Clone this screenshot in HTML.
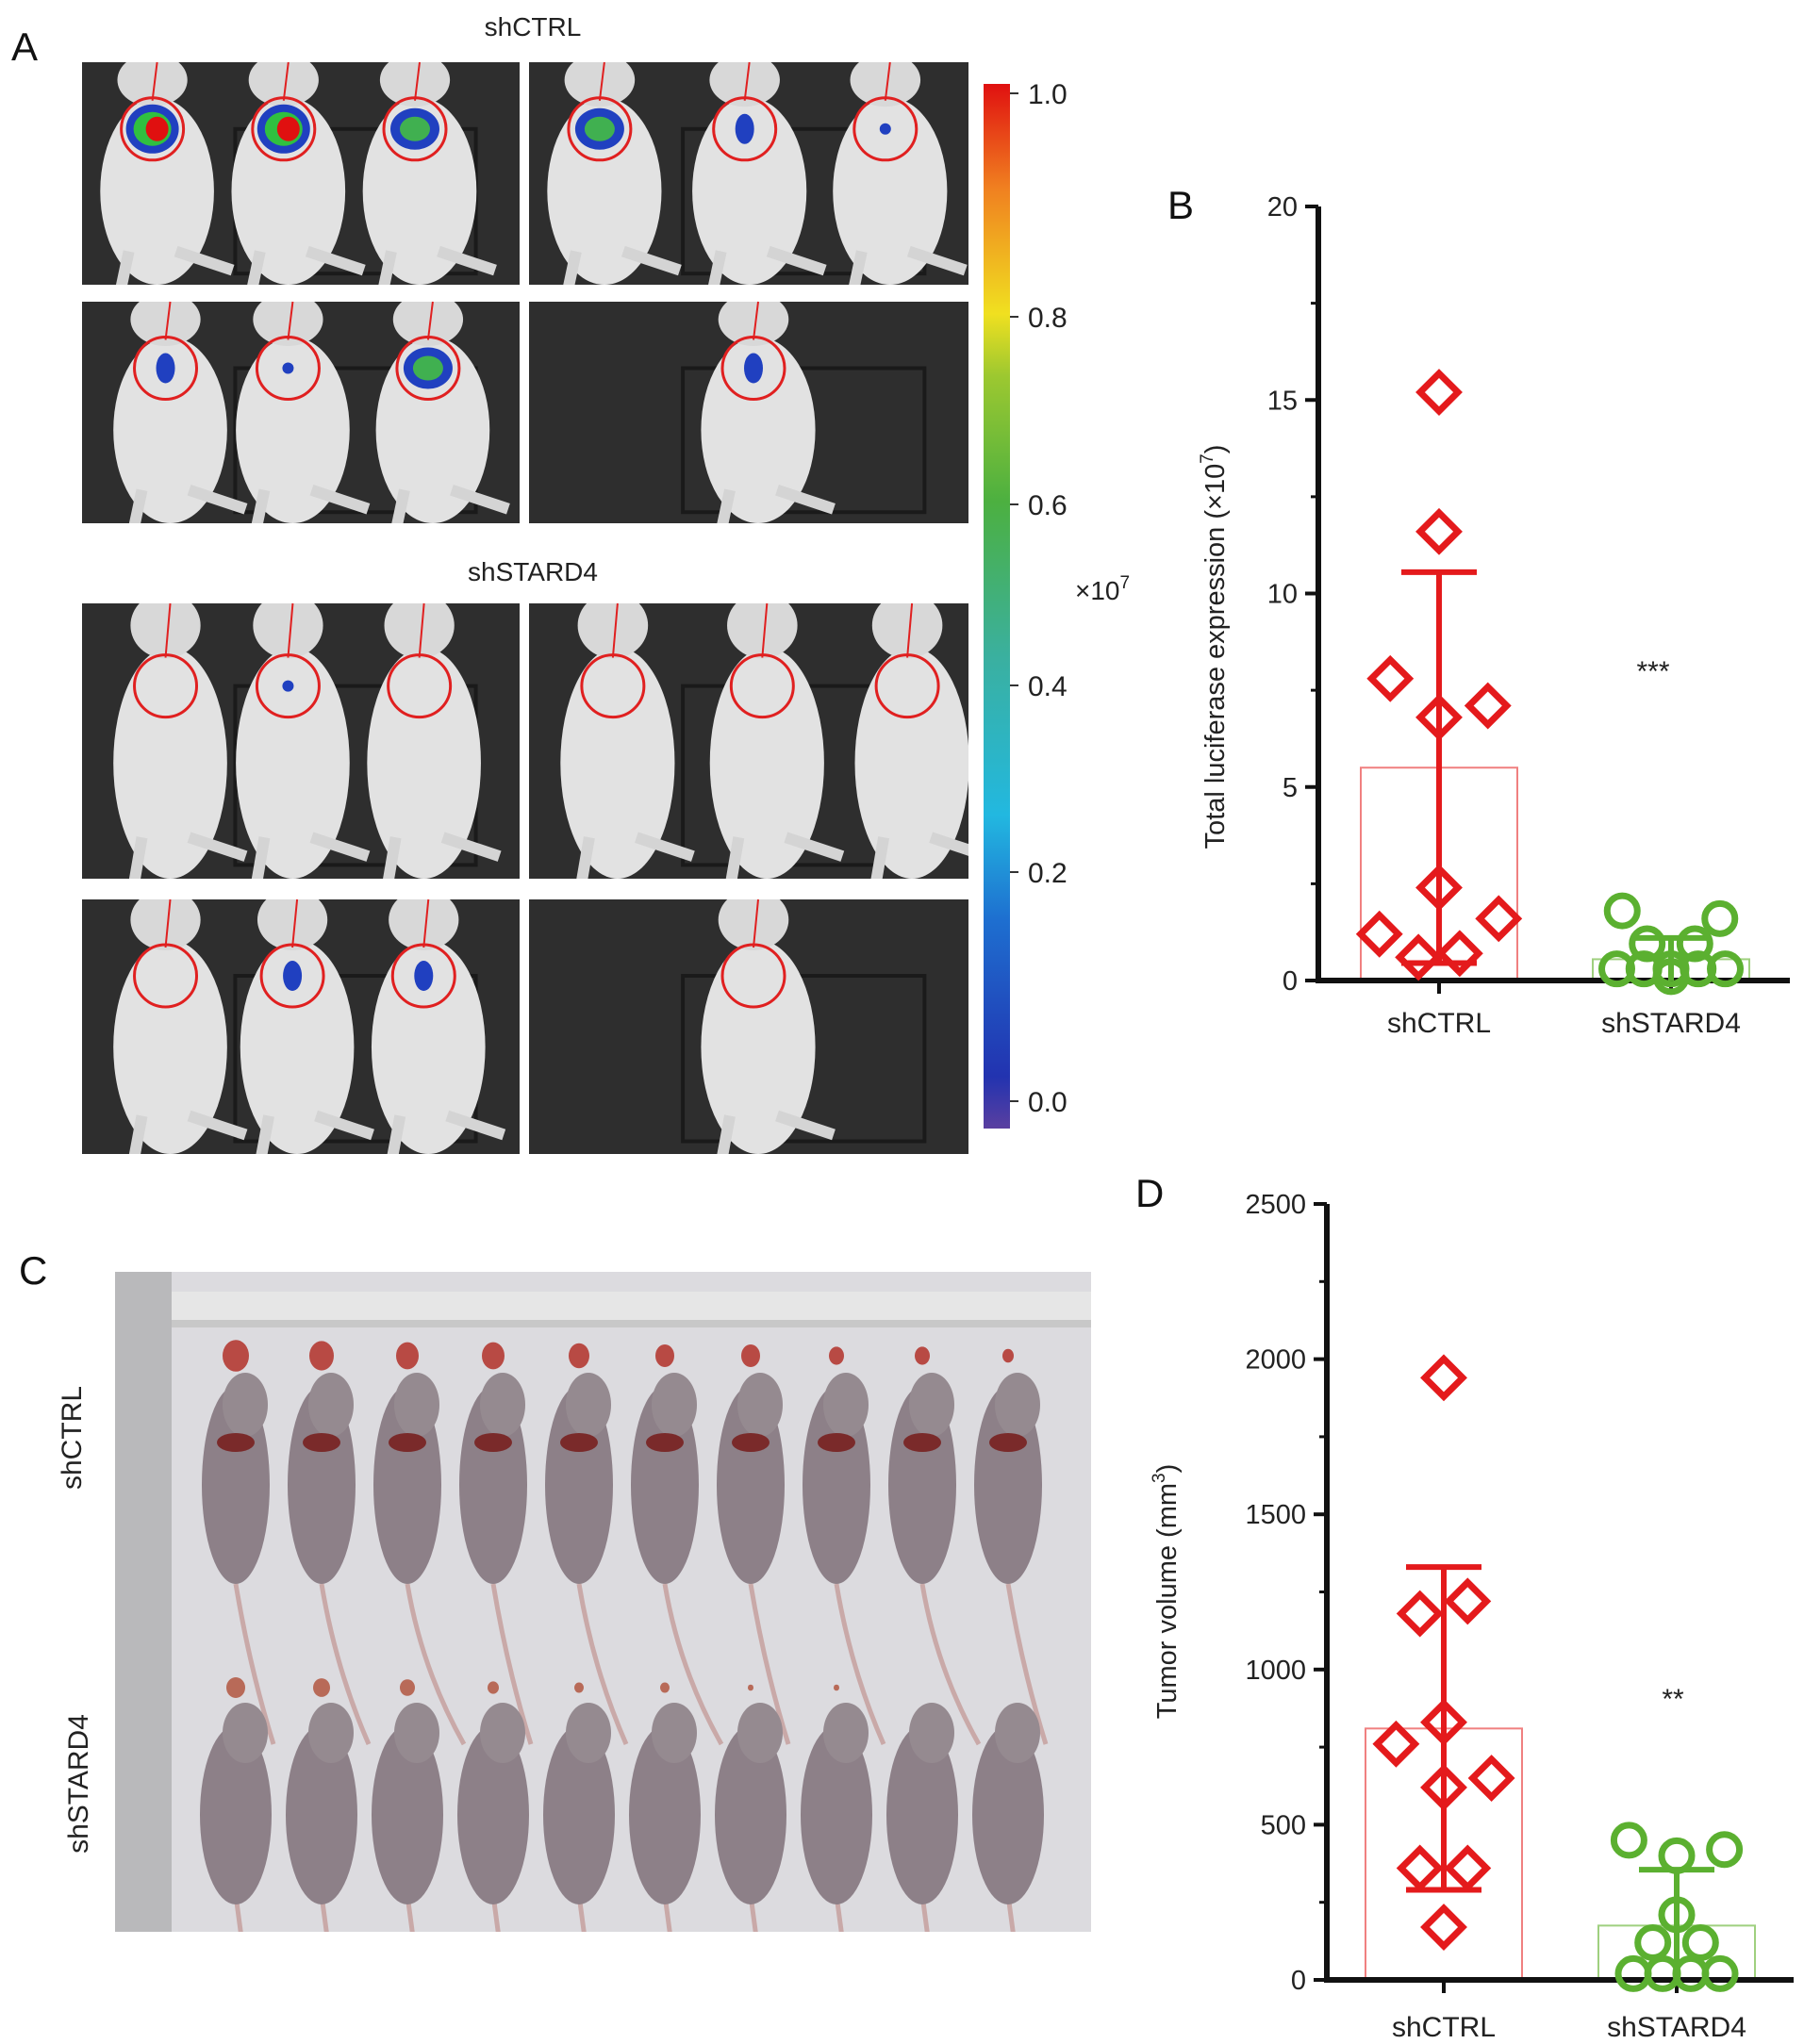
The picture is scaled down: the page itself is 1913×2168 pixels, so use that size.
<!DOCTYPE html>
<html><head><meta charset="utf-8">
<style>
body{margin:0;background:#fff;}
svg{display:block;font-family:"Liberation Sans",Arial,sans-serif;}
</style></head>
<body>
<svg id="fig" width="1913" height="2168" viewBox="0 0 1913 2168" xmlns="http://www.w3.org/2000/svg">
<defs>
<linearGradient id="cbar" x1="0" y1="1" x2="0" y2="0">
<stop offset="0" stop-color="#5a3fa0"/><stop offset="0.05" stop-color="#2233b0"/>
<stop offset="0.2" stop-color="#1e6fd0"/><stop offset="0.3" stop-color="#22b8e0"/>
<stop offset="0.45" stop-color="#3ab0a0"/><stop offset="0.6" stop-color="#4cb040"/>
<stop offset="0.72" stop-color="#9cc830"/><stop offset="0.78" stop-color="#f0e020"/>
<stop offset="0.9" stop-color="#f08020"/><stop offset="1" stop-color="#e01010"/>
</linearGradient>
<clipPath id="clipC"><rect x="122" y="1349" width="1035" height="700"/></clipPath>
</defs>
<g id="panelA"></g>
<g id="panelC"></g>
<g id="chartB"></g>
<g id="chartD"></g>
</svg>
<script>
// ---- Chart B data ----
const catsB = ["shCTRL", "shSTARD4"];
const ticksB = [0, 5, 10, 15, 20];
const ctrlB = [15.2, 11.6, 7.8, 6.8, 7.1, 2.4, 1.2, 1.6, 0.6, 0.7];
const ctrlBoff = [0, 0, -0.45, 0, 0.45, 0, -0.55, 0.55, -0.19, 0.19];
const stardB = [1.8, 1.6, 0.95, 0.95, 0.3, 0.3, 0.3, 0.3, 0.3, 0.1];
const stardBoff = [-0.45, 0.45, -0.22, 0.22, -0.5, -0.25, 0, 0.25, 0.5, 0];
const meanB = [5.5, 0.55];
const errTopB = [10.55, 1.1];
const errBotB = [0.45, 0.0];
// ---- Chart D data ----
const catsD = ["shCTRL", "shSTARD4"];
const ticksD = [0, 500, 1000, 1500, 2000, 2500];
const ctrlD = [1940, 1220, 1180, 830, 760, 650, 620, 360, 360, 170];
const ctrlDoff = [0, 0.22, -0.22, 0, -0.44, 0.44, 0, -0.22, 0.22, 0];
const stardD = [450, 420, 400, 210, 120, 120, 20, 20, 20, 20];
const stardDoff = [-0.44, 0.44, 0, 0, -0.22, 0.22, -0.4, -0.13, 0.13, 0.4];
const meanD = [810, 175];
const errTopD = [1330, 355];
const errBotD = [290, 0];

const NS = "http://www.w3.org/2000/svg";
function mk(parent, tag, attrs, text){
  const e = document.createElementNS(NS, tag);
  for (const k in attrs) e.setAttribute(k, attrs[k]);
  if (text !== undefined) e.textContent = text;
  parent.appendChild(e); return e;
}

function drawChart(g, cfg){
  const y = v => cfg.y0 - (v - 0) / cfg.max * (cfg.y0 - cfg.yTop);
  const x = (i, off) => cfg.cx[i] + (off || 0) * cfg.spread;
  const RED = "#e41a1c", GREEN = "#5bb030";
  [cfg.mean[0], cfg.mean[1]].forEach((m, i) => {
    const b = mk(g, "rect", {x: x(i) - cfg.bw/2, y: y(m), width: cfg.bw, height: y(0) - y(m), fill: "none", stroke: i ? "#9fd07f" : "#f08080", "stroke-width": 2});
    
    
  });
  const ya = mk(g, "line", {x1: cfg.ax, y1: cfg.yTop, x2: cfg.ax, y2: y(0), stroke: "#111", "stroke-width": 6});
  
  
  const xa = mk(g, "line", {x1: cfg.ax - 3, y1: y(0), x2: cfg.xEnd, y2: y(0), stroke: "#111", "stroke-width": 6});
  
  
  cfg.ticks.forEach((t, k) => {
    mk(g, "line", {x1: cfg.ax - 14, y1: y(t), x2: cfg.ax, y2: y(t), stroke: "#111", "stroke-width": 4});
    if (k < cfg.ticks.length - 1) {
      const mid = (t + cfg.ticks[k+1]) / 2;
      mk(g, "line", {x1: cfg.ax - 8, y1: y(mid), x2: cfg.ax, y2: y(mid), stroke: "#111", "stroke-width": 3});
    }
    const tl = mk(g, "text", {x: cfg.ax - 22, y: y(t) + 10, "text-anchor": "end", "font-size": 29, fill: "#222"}, String(t));
    
    
  });
  cfg.cats.forEach((c, i) => {
    mk(g, "line", {x1: x(i), y1: y(0), x2: x(i), y2: y(0) + 14, stroke: "#111", "stroke-width": 4});
    const cl = mk(g, "text", {x: x(i), y: cfg.catY, "text-anchor": "middle", "font-size": 30, fill: "#222"}, c);
    
    
  });
  [0, 1].forEach(i => {
    const col = i ? GREEN : RED;
    mk(g, "line", {x1: x(i), y1: y(cfg.errTop[i]), x2: x(i), y2: y(cfg.errBot[i]), stroke: col, "stroke-width": 6});
    mk(g, "line", {x1: x(i) - cfg.cap, y1: y(cfg.errTop[i]), x2: x(i) + cfg.cap, y2: y(cfg.errTop[i]), stroke: col, "stroke-width": 6});
    if (cfg.errBot[i] > 0) mk(g, "line", {x1: x(i) - cfg.cap, y1: y(cfg.errBot[i]), x2: x(i) + cfg.cap, y2: y(cfg.errBot[i]), stroke: col, "stroke-width": 6});
  });
  cfg.ctrl.forEach((v, k) => {
    const px = x(0, cfg.ctrlOff[k]), py = y(v), h = 20;
    const p = mk(g, "polygon", {points: `${px},${py-h} ${px+h},${py} ${px},${py+h} ${px-h},${py}`, fill: "none", stroke: RED, "stroke-width": 7});
    
    
  });
  cfg.stard.forEach((v, k) => {
    const c = mk(g, "circle", {cx: x(1, cfg.stardOff[k]), cy: Math.min(y(v), y(0) - 2), r: 16, fill: "none", stroke: GREEN, "stroke-width": 7});
    
    
  });
  const st = mk(g, "text", {x: cfg.star[0], y: cfg.star[1], "text-anchor": "middle", "font-size": 30, fill: "#222"}, cfg.starText);
  
  
  const yt = mk(g, "text", {x: 0, y: 0, transform: `translate(${cfg.title[0]},${cfg.title[1]}) rotate(-90)`, "text-anchor": "middle", "font-size": 29, fill: "#222"});
  yt.innerHTML = cfg.titleHTML;
  
  
  const pl = mk(g, "text", {x: cfg.letter[0], y: cfg.letter[1], "font-size": 42, fill: "#111"}, cfg.letterText);
  
  
}

drawChart(document.getElementById("chartB"), {
  cats: catsB, ticks: ticksB, ctrl: ctrlB, ctrlOff: ctrlBoff, stard: stardB, stardOff: stardBoff,
  mean: meanB, errTop: errTopB, errBot: errBotB, max: 20, y0: 1040, yTop: 219, ax: 1398, xEnd: 1898,
  cx: [1526, 1772], spread: 115, bw: 166, cap: 40, catY: 1095, star: [1753, 722], starText: "***",
  title: [1298, 686], titleHTML: 'Total luciferase expression (×10<tspan dy="-12" font-size="19">7</tspan><tspan dy="12">)</tspan>',
  letter: [1238, 232], letterText: "B"
});
drawChart(document.getElementById("chartD"), {
  cats: catsD, ticks: ticksD, ctrl: ctrlD, ctrlOff: ctrlDoff, stard: stardD, stardOff: stardDoff,
  mean: meanD, errTop: errTopD, errBot: errBotD, max: 2500, y0: 2100, yTop: 1277, ax: 1407, xEnd: 1902,
  cx: [1531, 1778], spread: 115, bw: 166, cap: 40, catY: 2160, star: [1774, 1812], starText: "**",
  title: [1247, 1688], titleHTML: 'Tumor volume (mm<tspan dy="-12" font-size="19">3</tspan><tspan dy="12">)</tspan>',
  letter: [1204, 1280], letterText: "D"
});

// ---- Panel A (imaging photo approximation) ----
(function(){
  const g = document.getElementById("panelA");
  const panels = [
    [87,66,464,236,[0.15,0.45,0.75],[[0.15,"hot"],[0.45,"hot"],[0.75,"mid"]]],
    [561,66,466,236,[0.15,0.48,0.8],[[0.15,"mid"],[0.48,"low"],[0.8,"tiny"]]],
    [87,320,464,235,[0.18,0.46,0.78],[[0.18,"low"],[0.46,"tiny"],[0.78,"mid"]]],
    [561,320,466,235,[0.5],[[0.5,"low"]]],
    [87,640,464,292,[0.18,0.46,0.76],[[0.18,""],[0.46,"tiny"],[0.76,""]]],
    [561,640,466,292,[0.18,0.52,0.85],[[0.18,""],[0.52,""],[0.85,""]]],
    [87,954,464,270,[0.18,0.47,0.77],[[0.18,""],[0.47,"low"],[0.77,"low"]]],
    [561,954,466,270,[0.5],[[0.5,""]]]
  ];
  panels.forEach(([x,y,w,h,mice,sig]) => {
    const r = mk(g,"rect",{x,y,width:w,height:h,fill:"#2e2e2e"});
    
    
    mk(g,"rect",{x:x+w*0.35,y:y+h*0.3,width:w*0.55,height:h*0.65,fill:"none",stroke:"#1a1a1a","stroke-width":4});
    const cp = "cA" + x + "_" + y;
    const clip = mk(g,"clipPath",{id:cp});
    mk(clip,"rect",{x,y,width:w,height:h});
    const mg = mk(g,"g",{"clip-path":`url(#${cp})`});
    mice.forEach(f => {
      const cx = x + w*f + 10;
      mk(mg,"ellipse",{cx:cx, cy:y+h*0.58, rx:w*0.13, ry:h*0.42, fill:"#e2e2e2"});
      mk(mg,"ellipse",{cx:cx-5, cy:y+h*0.08, rx:w*0.08, ry:h*0.12, fill:"#d8d8d8"});
      mk(mg,"path",{d:`M${cx+20} ${y+h*0.85} l60 20 M${cx-30} ${y+h*0.85} l-10 ${h*0.2}`,stroke:"#d4d4d4","stroke-width":12,fill:"none"});
    });
    sig.forEach(([f,t]) => {
      const cx = x + w*f + 5, cy = y + h*0.3;
      mk(g,"line",{x1:cx+5,y1:y,x2:cx,y2:cy-30,stroke:"#e02020","stroke-width":2});
      if (t==="hot"){ mk(g,"ellipse",{cx,cy,rx:28,ry:26,fill:"#2040c0"}); mk(g,"ellipse",{cx,cy,rx:20,ry:18,fill:"#30c040"}); mk(g,"ellipse",{cx:cx+5,cy,rx:12,ry:13,fill:"#e01010"}); }
      else if (t==="mid"){ mk(g,"ellipse",{cx,cy,rx:26,ry:22,fill:"#2040c0"}); mk(g,"ellipse",{cx,cy,rx:16,ry:13,fill:"#40b050"}); }
      else if (t==="low"){ mk(g,"ellipse",{cx,cy,rx:10,ry:16,fill:"#2040c0"}); }
      else if (t==="tiny"){ mk(g,"circle",{cx,cy,r:6,fill:"#2040c0"}); }
      mk(g,"circle",{cx,cy,r:33,fill:"none",stroke:"#e02020","stroke-width":3});
    });
  });
  const cb = mk(g,"rect",{x:1043,y:89,width:28,height:1108,fill:"url(#cbar)"});
  
  
  const cbv = ["1.0","0.8","0.6","0.4","0.2","0.0"];
  const cby = [99, 336, 535, 727, 925, 1168];
  cbv.forEach((v,i) => {
    const yy = cby[i];
    mk(g,"line",{x1:1071,y1:yy,x2:1080,y2:yy,stroke:"#333","stroke-width":2});
    const t = mk(g,"text",{x:1090,y:yy+11,"font-size":30,fill:"#222"},v);
    
    
  });
  const ex = mk(g,"text",{x:1140,y:636,"font-size":28,fill:"#222"});
  ex.innerHTML = '×10<tspan dy="-12" font-size="19">7</tspan>';
  
  
  [["shCTRL",28],["shSTARD4",606]].forEach(([s,yy]) => {
    const t = mk(g,"text",{x:565,y:yy+10,"text-anchor":"middle","font-size":28,fill:"#222"},s);
    
    
  });
  const l = mk(g,"text",{x:12,y:64,"font-size":42,fill:"#111"},"A");
  
  
})();

// ---- Panel C (dissection photo approximation) ----
(function(){
  const root = document.getElementById("panelC");
  const bg = mk(root,"rect",{x:122,y:1349,width:1035,height:700,fill:"#dcdbdf"});
  
  
  const g = mk(root,"g",{"clip-path":"url(#clipC)"});
  mk(g,"rect",{x:122,y:1349,width:60,height:700,fill:"#b9b9bb"});
  mk(g,"rect",{x:182,y:1370,width:975,height:38,fill:"#e6e6e6"});
  mk(g,"rect",{x:182,y:1400,width:975,height:8,fill:"#c8c8c8"});
  const tum1 = [14,13,12,12,11,10,10,8,8,6];
  const tum2 = [10,9,8,6,5,5,3,3,0,0];
  for (let i=0;i<10;i++){
    const cx = 250 + i*91;
    mk(g,"ellipse",{cx:cx,cy:1438,rx:tum1[i],ry:tum1[i]*1.2,fill:"#b84a44"});
    mk(g,"ellipse",{cx:cx,cy:1790,rx:tum2[i],ry:tum2[i]*1.1,fill:"#b86a58"});
    // upper row mouse
    mk(g,"path",{d:`M${cx} 1680 q15 90 ${40+(i%3)*10} 170`,stroke:"#c9a9a8","stroke-width":5,fill:"none"});
    mk(g,"ellipse",{cx:cx,cy:1575,rx:36,ry:105,fill:"#8d8088"});
    mk(g,"ellipse",{cx:cx+10,cy:1490,rx:24,ry:34,fill:"#958a90"});
    mk(g,"ellipse",{cx:cx,cy:1530,rx:20,ry:10,fill:"#7a2a2a"});
    // lower row mouse
    mk(g,"path",{d:`M${cx} 2010 l8 60`,stroke:"#c9a9a8","stroke-width":5,fill:"none"});
    mk(g,"ellipse",{cx:cx,cy:1925,rx:38,ry:95,fill:"#8d8088"});
    mk(g,"ellipse",{cx:cx+10,cy:1838,rx:24,ry:32,fill:"#958a90"});
  }
  [["shCTRL",76,1525],["shSTARD4",83,1892]].forEach(([s,xx,yy]) => {
    const t = mk(root,"text",{x:0,y:0,transform:`translate(${xx+10},${yy}) rotate(-90)`,"text-anchor":"middle","font-size":30,fill:"#222"},s);
    
    
  });
  const l = mk(root,"text",{x:20,y:1362,"font-size":42,fill:"#111"},"C");
  
  
})();
</script>
</body></html>
